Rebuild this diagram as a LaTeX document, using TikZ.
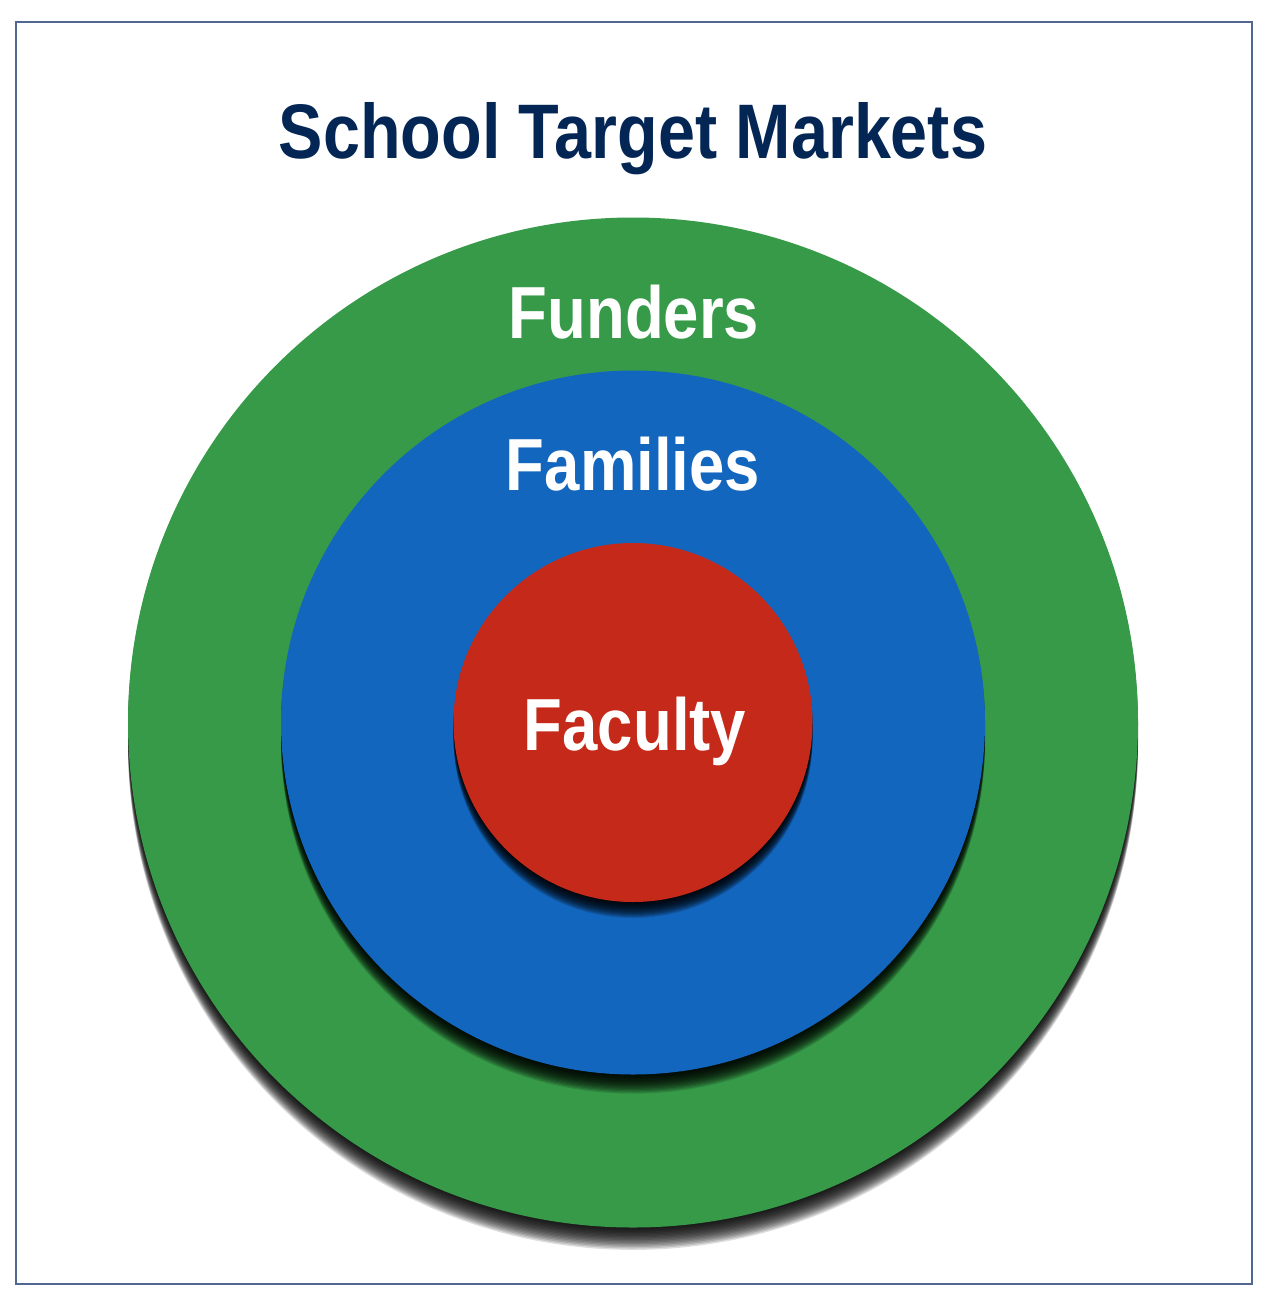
\documentclass[tikz,border=0pt]{standalone}
\usepackage{fontspec}
\setmainfont{Liberation Sans}[FakeStretch=0.86]
\usetikzlibrary{positioning, calc}
\definecolor{titlecolor}{RGB}{3, 38, 84}
\definecolor{framecolor}{RGB}{80, 104, 144}
\definecolor{fundercolor}{RGB}{54, 154, 72}
\definecolor{familycolor}{RGB}{19, 102, 190}
\definecolor{facultycolor}{RGB}{197, 41, 25}

\begin{document}
\begin{tikzpicture}[
    ring/.style={circle, draw=none, inner sep=0pt},
    shadowlayer/.style={fill=black, opacity=0.13},
    ringlabel/.style={anchor=base, text=white, font=\fontsize{42}{46}\selectfont\bfseries},
]
\useasboundingbox (0,0) rectangle (25.36,-26.12);

% ============ frame ============
\draw[framecolor, line width=1.1pt] (0.32,-0.44) rectangle (25.04,-25.68);

% ============ title ============
\node[anchor=base, text=titlecolor, font=\fontsize{44}{50}\selectfont\bfseries] (title) at (12.66,-3.16)
      {School Target Markets};

\coordinate (center) at (12.66,-14.45);

% ============ rings ============
\foreach \k in {1,...,16}
    \fill[shadowlayer] ([yshift=-\k*0.028cm]center) circle (10.1cm);
\node[ring, fill=fundercolor, minimum size=20.2cm] (funders) at (center) {};

\foreach \k in {1,...,16}
    \fill[shadowlayer] ([yshift=-\k*0.024cm]center) circle (7.04cm);
\node[ring, fill=familycolor, minimum size=14.08cm] (families) at (center) {};

\foreach \k in {1,...,16}
    \fill[shadowlayer] ([yshift=-\k*0.02cm]center) circle (3.59cm);
\node[ring, fill=facultycolor, minimum size=7.18cm] (faculty) at (center) {};

% ============ labels ============
\node[ringlabel] (funders_label) at (12.68,-6.76) {Funders};
\node[ringlabel] (families_label) at (12.66,-9.8) {Families};
\node[ringlabel] (faculty_label) at (12.7,-15.0) {Faculty};

\end{tikzpicture}
\end{document}
